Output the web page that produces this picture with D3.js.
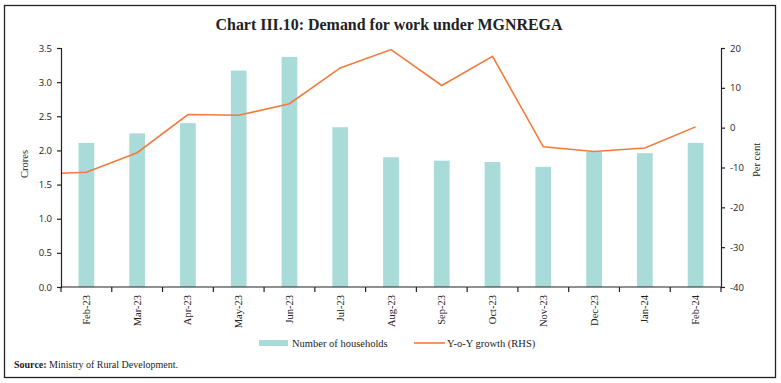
<!DOCTYPE html>
<html>
<head>
<meta charset="utf-8">
<script src="https://cdn.jsdelivr.net/npm/d3@7"></script>
<style>
  body { margin: 0; background: #fff; }
  .tick text { fill: #222; }
</style>
</head>
<body>
<div id="chart"></div>
<script>
// data
var months = ["Feb-23", "Mar-23", "Apr-23", "May-23", "Jun-23", "Jul-23", "Aug-23",
  "Sep-23", "Oct-23", "Nov-23", "Dec-23", "Jan-24", "Feb-24"];
var households = [2.11, 2.25, 2.40, 3.17, 3.37, 2.34, 1.90, 1.85, 1.83, 1.76, 1.98, 1.96, 2.11];
var growth = [-11.2, -6.3, 3.3, 3.1, 6.0, 15.0, 19.6, 10.6, 17.9, -4.8, -6.0, -5.1, 0.2];
// previous month, only its segment into the plot is visible
var growthPrev = { month: "Jan-23", value: -11.7 };
var leftTicks = [0, 0.5, 1.0, 1.5, 2.0, 2.5, 3.0, 3.5];
var rightTicks = [-40, -30, -20, -10, 0, 10, 20];

var svgWidth = 781;
var svgHeight = 383;
var margin = { top: 48, right: 60, bottom: 96, left: 61 };
var width = svgWidth - margin.left - margin.right;
var height = svgHeight - margin.top - margin.bottom;

var svg = d3.select("#chart")
  .append("svg")
  .attr("width", svgWidth)
  .attr("height", svgHeight);

// outer frame
svg.append("rect")
  .attr("x", 4.5).attr("y", 5.5)
  .attr("width", 771).attr("height", 372)
  .attr("fill", "none")
  .attr("stroke", "#222")
  .attr("stroke-width", 1.3);

svg.append("text")
  .attr("x", 389)
  .attr("y", 30)
  .attr("text-anchor", "middle")
  .attr("font-family", "Liberation Serif, serif")
  .attr("font-size", "16.5px")
  .attr("font-weight", "bold")
  .attr("fill", "#222")
  .attr("textLength", 347)
  .attr("lengthAdjust", "spacingAndGlyphs")
  .text("Chart III.10: Demand for work under MGNREGA");

var chartGroup = svg.append("g")
  .attr("transform", `translate(${margin.left}, ${margin.top})`);

var xScale = d3.scaleBand()
  .domain(months)
  .range([0, width])
  .paddingInner(0.69)
  .paddingOuter(0.345);

var yLeft = d3.scaleLinear().domain([0, 3.5]).range([height, 0]);
var yRight = d3.scaleLinear().domain([-40, 20]).range([height, 0]);

var step = xScale.step();
var cx = function (m) {
  if (m === growthPrev.month) return xScale(months[0]) + xScale.bandwidth() / 2 - step;
  return xScale(m) + xScale.bandwidth() / 2;
};

// bars
chartGroup.selectAll(".bar")
  .data(households)
  .enter()
  .append("rect")
  .attr("class", "bar")
  .attr("x", (d, i) => xScale(months[i]))
  .attr("y", d => yLeft(d))
  .attr("width", xScale.bandwidth())
  .attr("height", d => height - yLeft(d))
  .attr("fill", "#a9dcd9");

// line, clipped to the plot
chartGroup.append("clipPath")
  .attr("id", "plotClip")
  .append("rect")
  .attr("x", 0).attr("y", -5)
  .attr("width", width).attr("height", height + 10);

var linePts = [growthPrev].concat(months.map((m, i) => ({ month: m, value: growth[i] })));

chartGroup.append("path")
  .datum(linePts)
  .attr("clip-path", "url(#plotClip)")
  .attr("fill", "none")
  .attr("stroke", "#f47a3c")
  .attr("stroke-width", 1.6)
  .attr("d", d3.line().x(d => cx(d.month)).y(d => yRight(d.value)));

// axes
var leftAxis = d3.axisLeft(yLeft)
  .tickValues(leftTicks)
  .tickFormat(d3.format(".1f"))
  .tickSize(4)
  .tickPadding(5);

var rightAxis = d3.axisRight(yRight)
  .tickValues(rightTicks)
  .tickFormat(d => String(d))   // plain hyphen like the original
  .tickSize(4)
  .tickPadding(5);

var gl = chartGroup.append("g").call(leftAxis);
var gr = chartGroup.append("g")
  .attr("transform", `translate(${width}, 0)`)
  .call(rightAxis);

[gl, gr].forEach(function (g) {
  g.select(".domain").attr("stroke", "#222").attr("stroke-width", 1.2);
  g.selectAll(".tick line").attr("stroke", "#222").attr("stroke-width", 1.2);
  g.selectAll(".tick text")
    .attr("font-family", "Open Sans, sans-serif")
    .attr("font-size", "9.5px");
});

// x axis with ticks at the band edges
var xAxisG = chartGroup.append("g")
  .attr("transform", `translate(0, ${height})`);

xAxisG.append("line")
  .attr("x1", 0).attr("x2", width)
  .attr("stroke", "#222").attr("stroke-width", 1.2);

xAxisG.selectAll(".xtick")
  .data(d3.range(months.length + 1))
  .enter()
  .append("line")
  .attr("x1", i => i * step)
  .attr("x2", i => i * step)
  .attr("y1", 0).attr("y2", 5)
  .attr("stroke", "#222").attr("stroke-width", 1.2);

xAxisG.selectAll(".xlabel")
  .data(months)
  .enter()
  .append("text")
  .attr("transform", m => `translate(${cx(m) + 3.5}, 8) rotate(-90)`)
  .attr("text-anchor", "end")
  .attr("font-family", "Liberation Serif, serif")
  .attr("font-size", "10.5px")
  .attr("fill", "#222")
  .text(m => m);

// axis titles
svg.append("text")
  .attr("transform", "translate(28, 164) rotate(-90)")
  .attr("text-anchor", "middle")
  .attr("font-family", "Liberation Serif, serif")
  .attr("font-size", "10.5px")
  .attr("fill", "#222")
  .text("Crores");

svg.append("text")
  .attr("transform", "translate(760, 160) rotate(-90)")
  .attr("text-anchor", "middle")
  .attr("font-family", "Liberation Serif, serif")
  .attr("font-size", "10.5px")
  .attr("fill", "#222")
  .text("Per cent");

// legend
var legend = svg.append("g");
legend.append("rect")
  .attr("x", 259).attr("y", 340)
  .attr("width", 29).attr("height", 6)
  .attr("fill", "#a9dcd9");
legend.append("text")
  .attr("x", 292).attr("y", 347)
  .attr("font-family", "Liberation Serif, serif")
  .attr("font-size", "10.5px")
  .attr("fill", "#222")
  .text("Number of households");
legend.append("line")
  .attr("x1", 414).attr("x2", 445)
  .attr("y1", 343).attr("y2", 343)
  .attr("stroke", "#f47a3c").attr("stroke-width", 1.6);
legend.append("text")
  .attr("x", 447).attr("y", 347)
  .attr("font-family", "Liberation Serif, serif")
  .attr("font-size", "10.5px")
  .attr("fill", "#222")
  .text("Y-o-Y growth (RHS)");

// source
var src = svg.append("text")
  .attr("x", 14).attr("y", 368)
  .attr("font-family", "Liberation Serif, serif")
  .attr("font-size", "10px")
  .attr("fill", "#222");
src.append("tspan").attr("font-weight", "bold").text("Source:");
src.append("tspan").text(" Ministry of Rural Development.");
</script>
</body>
</html>
